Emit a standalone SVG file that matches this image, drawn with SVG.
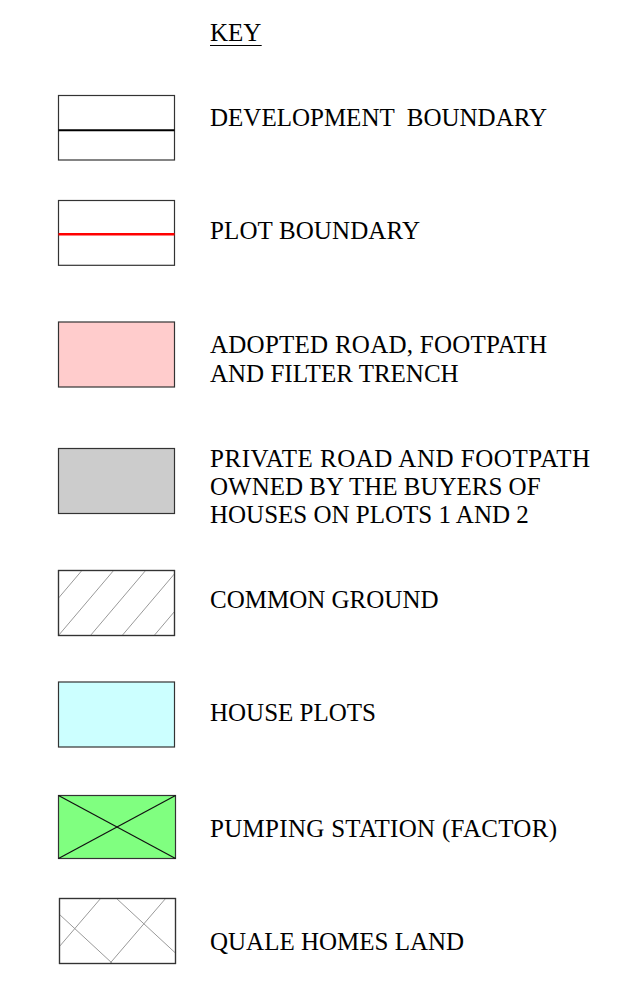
<svg xmlns="http://www.w3.org/2000/svg" width="637" height="989" viewBox="0 0 637 989">
<style>
  text { font-family: "Liberation Serif", "Times New Roman", serif; font-size: 25px; fill: #000; }
  .box { stroke: #333; stroke-width: 1.2; }
  .hatch { stroke: #999; stroke-width: 1; fill: none; }
</style>
<defs>
  <clipPath id="clipCommon"><rect x="58.5" y="570.5" width="116" height="65"/></clipPath>
  <clipPath id="clipQuale"><rect x="59.5" y="898.5" width="116" height="65"/></clipPath>
</defs>
<rect width="637" height="989" fill="#fff"/>

<g id="title">
  <text x="210" y="40.7">KEY</text>
  <line x1="210" y1="45.5" x2="261.7" y2="45.5" stroke="#000" stroke-width="1"/>
</g>

<g id="development-boundary">
  <rect class="box" x="58.5" y="95.5" width="116" height="64.5" fill="#fff"/>
  <line x1="58.5" y1="130.3" x2="174.5" y2="130.3" stroke="#000" stroke-width="2"/>
  <text x="210" y="126" xml:space="preserve">DEVELOPMENT  BOUNDARY</text>
</g>

<g id="plot-boundary">
  <rect class="box" x="58.5" y="200.5" width="116" height="64.8" fill="#fff"/>
  <line x1="58.5" y1="234.3" x2="174.5" y2="234.3" stroke="#ff0000" stroke-width="2.4"/>
  <text x="210" y="239.3" textLength="210" lengthAdjust="spacing">PLOT BOUNDARY</text>
</g>

<g id="adopted-road">
  <rect class="box" x="58.5" y="322" width="116" height="65" fill="#ffcccc"/>
  <text x="210" y="353.3" textLength="337" lengthAdjust="spacing">ADOPTED ROAD, FOOTPATH</text>
  <text x="210" y="381.7">AND FILTER TRENCH</text>
</g>

<g id="private-road">
  <rect class="box" x="58.5" y="448.5" width="116" height="65" fill="#cccccc"/>
  <text x="210" y="466.7" textLength="380" lengthAdjust="spacing">PRIVATE ROAD AND FOOTPATH</text>
  <text x="210" y="495">OWNED BY THE BUYERS OF</text>
  <text x="210" y="523.3">HOUSES ON PLOTS 1 AND 2</text>
</g>

<g id="common-ground">
  <rect class="box" x="58.5" y="570.5" width="116" height="65" fill="#fff"/>
  <g clip-path="url(#clipCommon)">
    <line class="hatch" x1="82.3" y1="570" x2="26.6" y2="635.7"/>
    <line class="hatch" x1="114" y1="570" x2="58.3" y2="635.7"/>
    <line class="hatch" x1="146" y1="570" x2="90.3" y2="635.7"/>
    <line class="hatch" x1="177.7" y1="570" x2="122" y2="635.7"/>
    <line class="hatch" x1="209.7" y1="570" x2="154" y2="635.7"/>
  </g>
  <rect class="box" x="58.5" y="570.5" width="116" height="65" fill="none"/>
  <text x="210" y="607.7">COMMON GROUND</text>
</g>

<g id="house-plots">
  <rect class="box" x="58.5" y="682" width="116" height="65" fill="#ccffff"/>
  <text x="210" y="720.7">HOUSE PLOTS</text>
</g>

<g id="pumping-station">
  <rect class="box" x="58.5" y="795.5" width="117" height="63" fill="#80ff80"/>
  <line x1="58.5" y1="795.5" x2="175.5" y2="858.5" stroke="#111" stroke-width="1.2"/>
  <line x1="58.5" y1="858.5" x2="175.5" y2="795.5" stroke="#111" stroke-width="1.2"/>
  <text x="210" y="836.7" textLength="347" lengthAdjust="spacing">PUMPING STATION (FACTOR)</text>
</g>

<g id="quale-homes-land">
  <rect class="box" x="59.5" y="898.5" width="116" height="65" fill="#fff"/>
  <g clip-path="url(#clipQuale)">
    <line class="hatch" x1="101" y1="898" x2="44.7" y2="963.7"/>
    <line class="hatch" x1="166" y1="898" x2="109.7" y2="963.7"/>
    <line class="hatch" x1="231" y1="898" x2="174.7" y2="963.7"/>
    <line class="hatch" x1="41.7" y1="898" x2="112.7" y2="963.7"/>
    <line class="hatch" x1="116" y1="898" x2="187" y2="963.7"/>
  </g>
  <rect class="box" x="59.5" y="898.5" width="116" height="65" fill="none"/>
  <text x="210" y="950">QUALE HOMES LAND</text>
</g>
</svg>
